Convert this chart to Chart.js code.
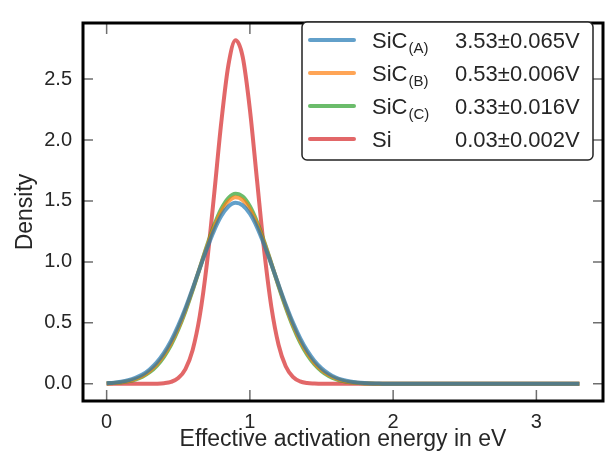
<!DOCTYPE html>
<html>
<head>
<meta charset="utf-8">
<script src="https://cdn.jsdelivr.net/npm/chart.js@4.4.0/dist/chart.umd.min.js"></script>
<style>
  html, body { margin: 0; padding: 0; background: #fff; }
</style>
</head>
<body>
<canvas id="chartDensity" width="605" height="459"></canvas>
<script>
// energy grid (eV) and densities
const energy = [
  0, 0.05, 0.1, 0.15, 0.2, 0.25, 0.3, 0.35, 0.4, 0.45,
  0.5, 0.55, 0.6, 0.65, 0.7, 0.75, 0.8, 0.85, 0.9, 0.95,
  1.0, 1.05, 1.1, 1.15, 1.2, 1.25, 1.3, 1.35, 1.4, 1.45,
  1.5, 1.55, 1.6, 1.65, 1.7, 1.75, 1.8, 1.85, 1.9, 1.95,
  2.0, 2.5, 3.0, 3.3,
];
const densityA = [
  0.005, 0.009, 0.017, 0.029, 0.048, 0.076, 0.118, 0.176, 0.254, 0.354,
  0.477, 0.620, 0.780, 0.947, 1.110, 1.257, 1.376, 1.454, 1.485, 1.464,
  1.395, 1.284, 1.141, 0.980, 0.813, 0.651, 0.504, 0.377, 0.272, 0.190,
  0.128, 0.083, 0.052, 0.032, 0.019, 0.011, 0.006, 0.003, 0.002, 0.001,
  0, 0, 0, 0,
];
const densityB = [
  0.004, 0.007, 0.013, 0.023, 0.040, 0.065, 0.104, 0.159, 0.235, 0.334,
  0.458, 0.606, 0.772, 0.949, 1.123, 1.282, 1.411, 1.496, 1.530, 1.507,
  1.432, 1.311, 1.157, 0.984, 0.807, 0.638, 0.486, 0.357, 0.253, 0.172,
  0.113, 0.072, 0.044, 0.026, 0.015, 0.008, 0.004, 0.002, 0.001, 0,
  0, 0, 0, 0,
];
const densityC = [
  0.003, 0.006, 0.011, 0.020, 0.035, 0.059, 0.095, 0.148, 0.222, 0.320,
  0.445, 0.595, 0.766, 0.949, 1.132, 1.298, 1.434, 1.524, 1.560, 1.536,
  1.456, 1.328, 1.167, 0.986, 0.802, 0.628, 0.473, 0.343, 0.240, 0.161,
  0.104, 0.065, 0.039, 0.022, 0.012, 0.007, 0.003, 0.002, 0.001, 0,
  0, 0, 0, 0,
];
const densitySi = [
  0, 0, 0, 0, 0, 0, 0, 0.001, 0.005, 0.016,
  0.047, 0.121, 0.276, 0.556, 0.987, 1.548, 2.141, 2.614, 2.818, 2.681,
  2.251, 1.668, 1.091, 0.630, 0.321, 0.144, 0.057, 0.020, 0.006, 0.002,
  0, 0, 0, 0, 0, 0, 0, 0, 0, 0,
  0, 0, 0, 0,
];

const seriesNames = ['SiC', 'SiC', 'SiC', 'Si'];
const seriesSubs = ['(A)', '(B)', '(C)', ''];
const seriesVolts = ['3.53\u00b10.065V', '0.53\u00b10.006V', '0.33\u00b10.016V', '0.03\u00b10.002V'];
const seriesColors = [
  'rgba(31, 119, 180, 0.7)',
  'rgba(255, 127, 14, 0.7)',
  'rgba(44, 160, 44, 0.7)',
  'rgba(214, 39, 40, 0.7)',
];
const xTicks = [0, 1, 2, 3];
const yTicks = [0, 0.5, 1.0, 1.5, 2.0, 2.5];

const FONT = "'Liberation Sans', Arial, sans-serif";
Chart.defaults.font.family = FONT;

const toPoints = (values) => values.map((v, i) => ({ x: energy[i], y: v }));

// inward ticks on all four sides plus the thick black frame
const frameAndTicks = {
  id: 'frameAndTicks',
  beforeDatasetsDraw(chart) {
    const { ctx, chartArea: a, scales: { x, y } } = chart;
    ctx.save();
    ctx.strokeStyle = '#6e6e6e';
    ctx.lineWidth = 1.5;
    ctx.beginPath();
    xTicks.forEach((v) => {
      const px = x.getPixelForValue(v);
      ctx.moveTo(px, a.bottom);
      ctx.lineTo(px, a.bottom - 11);
      ctx.moveTo(px, a.top);
      ctx.lineTo(px, a.top + 11);
    });
    yTicks.forEach((v) => {
      const py = y.getPixelForValue(v);
      ctx.moveTo(a.left, py);
      ctx.lineTo(a.left + 10, py);
      ctx.moveTo(a.right, py);
      ctx.lineTo(a.right - 10, py);
    });
    ctx.stroke();
    ctx.restore();
  },
  afterDatasetsDraw(chart) {
    const { ctx, chartArea: a } = chart;
    ctx.save();
    ctx.strokeStyle = '#000';
    ctx.lineWidth = 3;
    ctx.strokeRect(a.left, a.top, a.right - a.left, a.bottom - a.top);
    ctx.restore();
  },
};

// legend with subscripts, drawn by hand
const subLegend = {
  id: 'subLegend',
  afterDraw(chart) {
    const { ctx } = chart;
    const box = { x: 302, y: 22, w: 291, h: 138, r: 5 };
    ctx.save();
    ctx.beginPath();
    ctx.moveTo(box.x + box.r, box.y);
    ctx.arcTo(box.x + box.w, box.y, box.x + box.w, box.y + box.h, box.r);
    ctx.arcTo(box.x + box.w, box.y + box.h, box.x, box.y + box.h, box.r);
    ctx.arcTo(box.x, box.y + box.h, box.x, box.y, box.r);
    ctx.arcTo(box.x, box.y, box.x + box.w, box.y, box.r);
    ctx.closePath();
    ctx.fillStyle = '#fff';
    ctx.fill();
    ctx.strokeStyle = '#222';
    ctx.lineWidth = 1.5;
    ctx.stroke();

    chart.data.datasets.forEach((ds, i) => {
      const rowY = 40 + i * 33;
      ctx.strokeStyle = ds.borderColor;
      ctx.lineWidth = 4;
      ctx.lineCap = 'round';
      ctx.beginPath();
      ctx.moveTo(310, rowY);
      ctx.lineTo(354, rowY);
      ctx.stroke();

      ctx.fillStyle = '#262626';
      ctx.textBaseline = 'alphabetic';
      ctx.textAlign = 'left';
      ctx.font = `22px ${FONT}`;
      const base = rowY + 8;
      ctx.fillText(seriesNames[i], 372, base);
      const w = ctx.measureText(seriesNames[i]).width;
      if (seriesSubs[i]) {
        ctx.font = `15px ${FONT}`;
        ctx.fillText(seriesSubs[i], 372 + w + 1, base + 5);
      }
      ctx.font = `22px ${FONT}`;
      ctx.fillText(seriesVolts[i], 455, base);
    });
    ctx.restore();
  },
};

new Chart(document.getElementById('chartDensity').getContext('2d'), {
  type: 'line',
  data: {
    datasets: [densityA, densityB, densityC, densitySi].map((values, i) => ({
      label: seriesNames[i] + seriesSubs[i],
      data: toPoints(values),
      borderColor: seriesColors[i],
      backgroundColor: seriesColors[i],
      borderWidth: 4,
      pointRadius: 0,
      fill: false,
      cubicInterpolationMode: 'monotone',
    })),
  },
  options: {
    responsive: false,
    animation: false,
    devicePixelRatio: 1,
    layout: { padding: { top: 12, right: 2, left: 0, bottom: 0 } },
    scales: {
      x: {
        type: 'linear',
        min: -0.165,
        max: 3.465,
        grid: { display: false, drawTicks: false },
        border: { display: false },
        ticks: {
          stepSize: 1,
          includeBounds: false,
          autoSkip: false,
          maxRotation: 0,
          padding: 9,
          color: '#262626',
          font: { size: 20 },
          callback: (v) => String(v),
        },
        title: {
          display: true,
          text: 'Effective activation energy in eV',
          color: '#262626',
          font: { size: 23 },
          padding: { top: 0, bottom: 6 },
        },
        afterFit(scale) { scale.height = 58; },
      },
      y: {
        min: -0.141,
        max: 2.96,
        grid: { display: false, drawTicks: false },
        border: { display: false },
        ticks: {
          stepSize: 0.5,
          includeBounds: false,
          padding: 11,
          color: '#262626',
          font: { size: 20 },
          callback: (v) => v.toFixed(1),
        },
        title: {
          display: true,
          text: 'Density',
          color: '#262626',
          font: { size: 23 },
          padding: { top: 12, bottom: 0 },
        },
        afterFit(scale) { scale.width = 83; },
      },
    },
    plugins: {
      legend: { display: false },
      tooltip: { enabled: false },
    },
  },
  plugins: [frameAndTicks, subLegend],
});
</script>
</body>
</html>
